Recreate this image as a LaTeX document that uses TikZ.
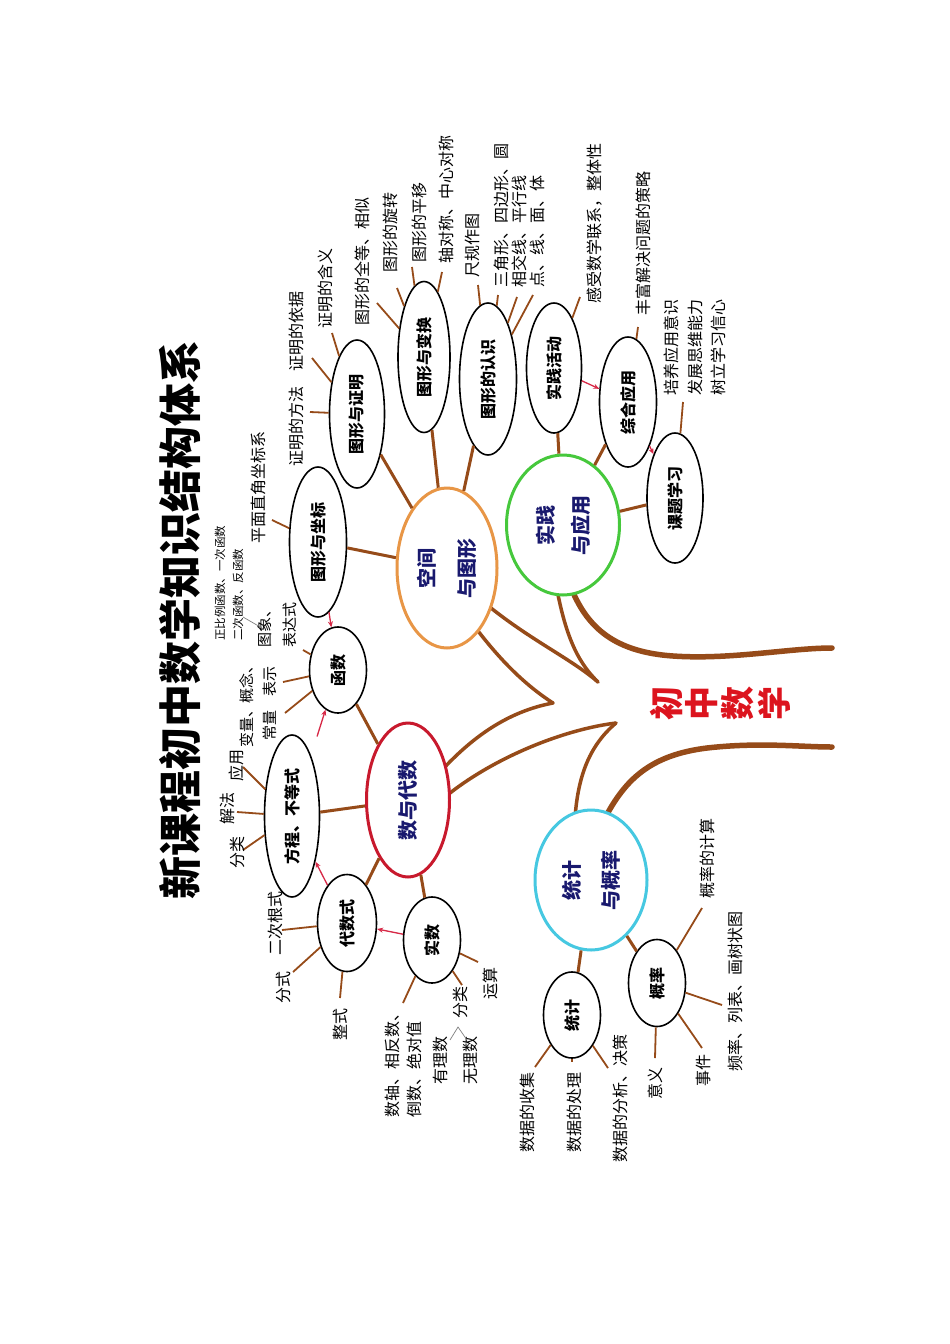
\documentclass[tikz,border=0pt]{standalone}
\usepackage{fontspec}
\setmainfont{Noto Sans CJK SC}
\usetikzlibrary{shapes.geometric,arrows.meta}
\definecolor{brn}{RGB}{150,75,25}
\definecolor{orng}{RGB}{232,150,70}
\definecolor{rd}{RGB}{200,25,45}
\definecolor{grn}{RGB}{70,200,60}
\definecolor{cyn}{RGB}{70,200,225}
\definecolor{navy}{RGB}{25,25,110}
\definecolor{arr}{RGB}{215,40,70}
\definecolor{txtred}{RGB}{220,20,30}
\tikzset{
 mainell/.style={ellipse, rotate=90, inner sep=0pt, line width=3pt, fill=white, text=navy, font=\bfseries\fontsize{20}{20}\selectfont, align=center},
 subell/.style={ellipse, rotate=90, draw=black, inner sep=0pt, line width=1.6pt, fill=white, font=\bfseries\fontsize{16}{16}\selectfont},
 lab/.style={rotate=90, inner sep=0pt, font=\fontsize{16}{19}\selectfont, align=center},
 smalllab/.style={rotate=90, inner sep=0pt, font=\fontsize{11.5}{13}\selectfont},
 trunk/.style={draw=brn, line width=5.5pt, line cap=round},
 branch/.style={draw=brn, line width=3.5pt, line cap=round},
 link/.style={draw=brn, line width=3pt},
 leaf/.style={draw=brn, line width=1.8pt},
 redarr/.style={draw=arr, line width=1.3pt, -{Stealth[length=6pt,width=5pt]}},
 thinline/.style={draw=gray, line width=0.7pt},
 bigchar/.style={rotate=90, inner sep=0pt, text=txtred, font=\bfseries\fontsize{34}{34}\selectfont}
}
\begin{document}
\begin{tikzpicture}[x=1pt,y=-1pt]
\fill[white] (0,0) rectangle (950,1344);
\useasboundingbox (0,0) rectangle (950,1344);

% title
\node[rotate=90, inner sep=0pt, font=\bfseries\fontsize{43}{43}\selectfont] (title) at (180,620) {新课程初中数学知识结构体系};

% trunk and branch curve end points
\coordinate (gA) at (557,590);
\coordinate (oA) at (486,604);
\coordinate (spA) at (598,682);
\coordinate (oB) at (475,627);
\coordinate (rB) at (442,770);
\coordinate (spB) at (553,703);
\coordinate (rC) at (445,797);
\coordinate (cC) at (575,818);
\coordinate (spC) at (616,723);
\coordinate (gT) at (572,590);
\coordinate (cT) at (605,818);
\coordinate (endU) at (832,648);
\coordinate (endL) at (832,747);

\draw[trunk] (gT) .. controls (588,628) and (615,652) .. (673,656) .. controls (730,660) and (790,648) .. (endU);
\draw[trunk] (cT) .. controls (625,780) and (650,755) .. (707,748) .. controls (760,742) and (800,747) .. (endL);
\draw[branch] (oA) .. controls (530,640) and (570,658) .. (spA);
\draw[branch] (gA) .. controls (565,630) and (575,660) .. (spA);
\draw[branch] (oB) .. controls (500,660) and (525,685) .. (spB);
\draw[branch] (rB) .. controls (470,740) and (505,712) .. (spB);
\draw[branch] (rC) .. controls (490,760) and (560,730) .. (spC);
\draw[branch] (cC) .. controls (578,775) and (590,745) .. (spC);

% trunk text
\node[bigchar] (t1) at (666,703) {初};
\node[bigchar] (t2) at (702,703) {中};
\node[bigchar] (t3) at (738,703) {数};
\node[bigchar] (t4) at (774,703) {学};

% main ellipses
\node[mainell, draw=orng, minimum width=160pt, minimum height=100pt] (kj) at (447,568) {空间\\[20pt]与图形};
\node[mainell, draw=rd, minimum width=154pt, minimum height=83pt] (sd) at (408,800) {数与代数};
\node[mainell, draw=grn, minimum width=140pt, minimum height=113pt] (sj) at (563,525) {实践\\[15pt]与应用};
\node[mainell, draw=cyn, minimum width=140pt, minimum height=112pt] (tg) at (591,880) {统计\\[19pt]与概率};

% sub ellipses
\node[subell, minimum width=150pt, minimum height=57pt] (zb) at (318,542) {图形与坐标};
\node[subell, minimum width=148pt, minimum height=55pt] (zm) at (357,414) {图形与证明};
\node[subell, minimum width=151pt, minimum height=52pt] (bh) at (424,357) {图形与变换};
\node[subell, minimum width=152pt, minimum height=57pt] (rs) at (488,379) {图形的认识};
\node[subell, minimum width=130pt, minimum height=55pt] (hd) at (554,368) {实践活动};
\node[subell, minimum width=130pt, minimum height=57pt] (zh) at (628,402) {综合应用};
\node[subell, minimum width=130pt, minimum height=56pt] (kt) at (675,498) {课题学习};
\node[subell, minimum width=86pt, minimum height=57pt] (hs) at (338,670) {函数};
\node[subell, minimum width=162pt, minimum height=55pt] (fc) at (292,816) {方程、不等式};
\node[subell, minimum width=97pt, minimum height=59pt] (ds) at (347,923) {代数式};
\node[subell, minimum width=86pt, minimum height=57pt] (ss) at (432,940) {实数};
\node[subell, minimum width=86pt, minimum height=57pt] (tj) at (572,1015) {统计};
\node[subell, minimum width=87pt, minimum height=57pt] (gl) at (657,983) {概率};

% links main -> sub
\draw[link] (kj) -- (zb);
\draw[link] (kj) -- (zm);
\draw[link] (kj) -- (bh);
\draw[link] (kj) -- (rs);
\draw[link] (sd) -- (hs);
\draw[link] (sd) -- (fc);
\draw[link] (sd) -- (ds);
\draw[link] (sd) -- (ss);
\draw[link] (sj) -- (hd);
\draw[link] (sj) -- (zh);
\draw[link] (sj) -- (kt);
\draw[link] (tg) -- (tj);
\draw[link] (tg) -- (gl);

% red arrows
\draw[redarr] (zb) -- (hs);
\draw[redarr, shorten <=20pt] (fc) -- (hs);
\draw[redarr] (ds) -- (fc);
\draw[redarr] (ss) -- (ds);
\draw[redarr] (hd) -- (zh);
\draw[redarr] (zh) -- (kt);

% leaf end points
\coordinate (e1) at (272,520);
\coordinate (e2) at (303,650);
\coordinate (e3) at (283,682);
\coordinate (e4) at (285,713);
\coordinate (e5) at (243,850);
\coordinate (e6) at (237,812);
\coordinate (e7) at (243,767);
\coordinate (e8) at (282,930);
\coordinate (e9) at (293,972);
\coordinate (e10) at (340,998);
\coordinate (e11) at (478,962);
\coordinate (e12) at (462,985);
\coordinate (e13) at (403,1003);
\coordinate (e14) at (310,412);
\coordinate (e15) at (312,358);
\coordinate (e16) at (332,333);
\coordinate (e17) at (377,303);
\coordinate (e18) at (397,288);
\coordinate (e19) at (412,267);
\coordinate (e20) at (442,272);
\coordinate (e21) at (478,285);
\coordinate (e22) at (498,295);
\coordinate (e23) at (517,297);
\coordinate (e24) at (533,295);
\coordinate (e25) at (580,297);
\coordinate (e26) at (638,327);
\coordinate (e27) at (683,402);
\coordinate (e28) at (535,1067);
\coordinate (e29) at (572,1062);
\coordinate (e30) at (608,1068);
\coordinate (e31) at (655,1058);
\coordinate (e32) at (702,1048);
\coordinate (e33) at (722,1005);
\coordinate (e34) at (702,908);

\draw[leaf] (zb) -- (e1);
\draw[leaf] (hs) -- (e2);
\draw[leaf] (hs) -- (e3);
\draw[leaf] (hs) -- (e4);
\draw[leaf] (fc) -- (e5);
\draw[leaf] (fc) -- (e6);
\draw[leaf] (fc) -- (e7);
\draw[leaf] (ds) -- (e8);
\draw[leaf] (ds) -- (e9);
\draw[leaf] (ds) -- (e10);
\draw[leaf] (ss) -- (e11);
\draw[leaf] (ss) -- (e12);
\draw[leaf] (ss) -- (e13);
\draw[leaf] (zm) -- (e14);
\draw[leaf] (zm) -- (e15);
\draw[leaf] (zm) -- (e16);
\draw[leaf] (bh) -- (e17);
\draw[leaf] (bh) -- (e18);
\draw[leaf] (bh) -- (e19);
\draw[leaf] (bh) -- (e20);
\draw[leaf] (rs) -- (e21);
\draw[leaf] (rs) -- (e22);
\draw[leaf] (rs) -- (e23);
\draw[leaf] (rs) -- (e24);
\draw[leaf] (hd) -- (e25);
\draw[leaf] (zh) -- (e26);
\draw[leaf] (kt) -- (e27);
\draw[leaf] (tj) -- (e28);
\draw[leaf] (tj) -- (e29);
\draw[leaf] (tj) -- (e30);
\draw[leaf] (gl) -- (e31);
\draw[leaf] (gl) -- (e32);
\draw[leaf] (gl) -- (e33);
\draw[leaf] (gl) -- (e34);

% labels
\node[lab] (l1) at (258,487) {平面直角坐标系};
\node[smalllab, anchor=west] (l2) at (220,641) {正比例函数、一次函数};
\node[smalllab, anchor=west] (l3) at (238,641) {二次函数、反函数};
\node[lab, font=\fontsize{15}{25}\selectfont] (l4) at (277,625) {图象、\\表达式};
\node[lab, font=\fontsize{15}{23}\selectfont] (l5) at (258,681) {概念、\\表示};
\node[lab, font=\fontsize{15}{23}\selectfont] (l6) at (258,725) {变量、\\常量};
\coordinate (g1) at (243,617);
\coordinate (g2) at (262,628);
\draw[thinline] (g1) -- (g2);

\node[lab] (l7) at (237,852) {分类};
\node[lab] (l8) at (227,808) {解法};
\node[lab] (l9) at (236,765) {应用};

\node[lab] (l10) at (275,923) {二次根式};
\node[lab] (l11) at (283,987) {分式};
\node[lab] (l12) at (340,1024) {整式};

\node[lab] (l13) at (490,983) {运算};
\node[lab] (l14) at (460,1002) {分类};
\node[lab] (l15) at (440,1060) {有理数};
\node[lab] (l16) at (470,1060) {无理数};
\coordinate (b1) at (450,1040);
\coordinate (b2) at (458,1027);
\coordinate (b3) at (467,1040);
\draw[thinline] (b1) -- (b2) -- (b3);
\node[lab, anchor=west, align=left, font=\fontsize{16}{22}\selectfont] (l17) at (403,1118) {数轴、相反数、\\倒数、绝对值};

\node[lab] (l18) at (296,426) {证明的方法};
\node[lab] (l19) at (296,331) {证明的依据};
\node[lab] (l20) at (325,288) {证明的含义};

\node[lab] (l21) at (362,261) {图形的全等、相似};
\node[lab] (l22) at (390,232) {图形的旋转};
\node[lab] (l23) at (419,222) {图形的平移};
\node[lab] (l24) at (446,199) {轴对称、中心对称};

\node[lab] (l25) at (472,245) {尺规作图};
\node[lab, anchor=west, align=left, font=\fontsize{16}{18}\selectfont] (l26) at (519,288) {三角形、四边形、圆\\相交线、平行线\\点、线、面、体};

\node[lab] (l27) at (595,223) {感受数学联系，整体性};
\node[lab] (l28) at (643,243) {丰富解决问题的策略};
\node[lab, font=\fontsize{16}{23.5}\selectfont] (l29) at (695,347) {培养应用意识\\发展思维能力\\树立学习信心};

\node[lab] (l30) at (527,1112) {数据的收集};
\node[lab] (l31) at (574,1112) {数据的处理};
\node[lab] (l32) at (620,1098) {数据的分析、决策};

\node[lab] (l33) at (655,1083) {意义};
\node[lab] (l34) at (703,1070) {事件};
\node[lab] (l35) at (735,991) {频率、列表、画树状图};
\node[lab] (l36) at (707,858) {概率的计算};
\end{tikzpicture}
\end{document}
